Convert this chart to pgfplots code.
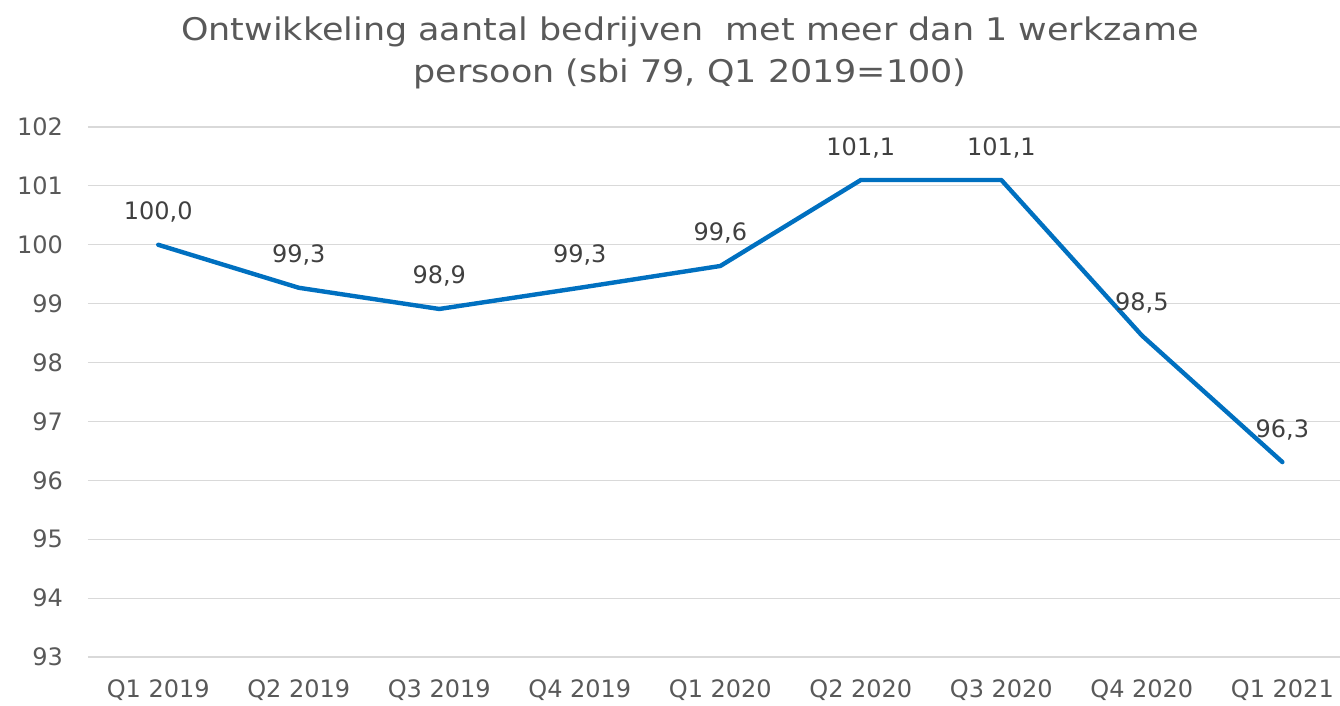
\documentclass[border=0pt]{standalone}
\usepackage{fontspec}
\setmainfont{DejaVu Sans}
\usepackage{pgfplots}
\usepackage{pgfplotstable}
\pgfplotsset{compat=1.18}
\definecolor{txt}{HTML}{595959}
\definecolor{lbl}{HTML}{404040}
\definecolor{gridc}{HTML}{D9D9D9}
\definecolor{linec}{HTML}{0070C0}
\pgfplotstableread{
x y lab
0 100.0  100,0
1 99.27  99,3
2 98.91  98,9
3 99.27  99,3
4 99.64  99,6
5 101.1  101,1
6 101.1  101,1
7 98.46  98,5
8 96.31  96,3
}\datatab
\begin{document}
\begin{tikzpicture}[x=1pt,y=1pt]
\useasboundingbox (0,0) rectangle (670,353);
\node[txt, font=\fontsize{15.6}{18}\selectfont, anchor=base] at (345,332.5) {\scalebox{1.12}[1]{Ontwikkeling aantal bedrijven\ \ met meer dan 1 werkzame}};
\node[txt, font=\fontsize{15.6}{18}\selectfont, anchor=base] at (345,311.5) {\scalebox{1.12}[1]{persoon (sbi 79, Q1 2019=100)}};
\begin{axis}[at={(44pt,24.5pt)}, anchor=south west, scale only axis,
  width=626pt, height=265pt,
  xmin=-0.5, xmax=8.41, ymin=93, ymax=102,
  ytick={93,...,102}, xtick={0,...,8},
  xticklabels={Q1 2019,Q2 2019,Q3 2019,Q4 2019,Q1 2020,Q2 2020,Q3 2020,Q4 2020,Q1 2021},
  axis line style={draw=none}, major tick style={draw=none},
  ymajorgrids, grid style={gridc, line width=0.6pt},
  tick label style={txt, font=\fontsize{12}{14}\selectfont},
  /pgf/number format/assume math mode=true,
  yticklabel style={xshift=-9pt},
  xticklabel style={yshift=-8pt},
  clip=false,
  nodes near coords,
  point meta=explicit symbolic,
  every node near coord/.append style={lbl, font=\fontsize{12}{14}\selectfont, anchor=base, yshift=12.5pt, inner sep=0pt},
]
\addplot[linec, line width=2.2pt, line cap=round, line join=round, mark=none] table[x=x, y=y, meta=lab] {\datatab};
\end{axis}
\end{tikzpicture}
\end{document}
